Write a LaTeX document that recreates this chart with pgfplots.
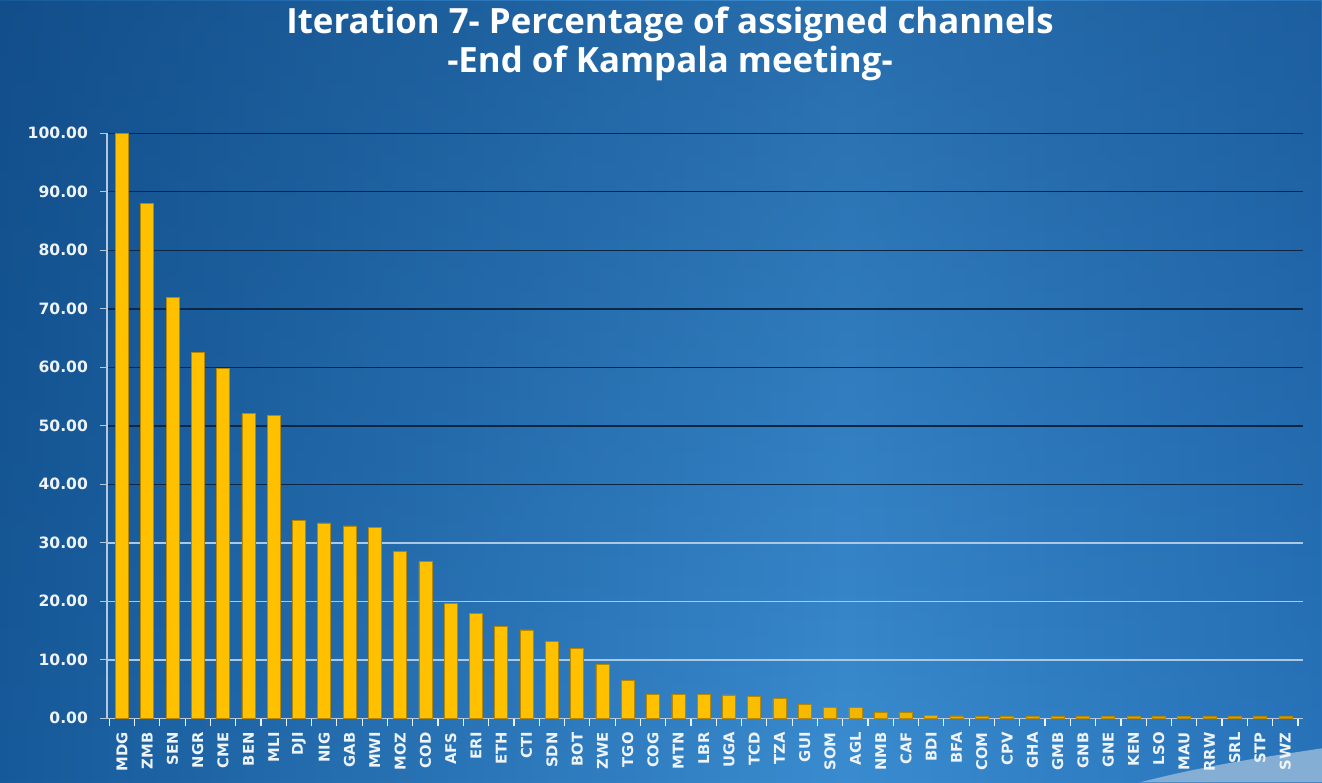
\documentclass[border=0pt]{standalone}
\usepackage{pgfplots}
\usepackage{pgfplotstable}
\pgfplotsset{compat=1.18}
\usetikzlibrary{fadings}
\usepackage{fontspec}
\setmainfont{DejaVu Sans}
\newfontfamily\titlefont{Open Sans}
\definecolor{bgA}{HTML}{0A4586}
\definecolor{bgB}{HTML}{175A9A}
\definecolor{bgC}{HTML}{3A8CD0}
\definecolor{bgD}{HTML}{236CB3}
\definecolor{bgE}{HTML}{0C4A8C}
\definecolor{bgTop}{HTML}{08386E}
\definecolor{barGold}{HTML}{FFC000}
\definecolor{barDark}{HTML}{B88700}
\definecolor{gridDark}{HTML}{0A2748}
\definecolor{gridLight}{HTML}{A9C9E6}
\definecolor{axisGray}{HTML}{B5C9DC}
\definecolor{labWhite}{HTML}{EEF3F8}
\definecolor{swoosh}{HTML}{84AED3}
\pgfdeclarehorizontalshading{bgshade}{100bp}{color(0bp)=(bgA); color(25bp)=(bgB); color(57bp)=(bgC); color(80bp)=(bgD); color(100bp)=(bgE)}

\pgfplotstableread{
x lab val
0 MDG 100
1 ZMB 88.0
2 SEN 71.9
3 NGR 62.5
4 CME 59.8
5 BEN 52.1
6 MLI 51.8
7 DJI 33.8
8 NIG 33.4
9 GAB 32.9
10 MWI 32.6
11 MOZ 28.5
12 COD 26.8
13 AFS 19.7
14 ERI 17.9
15 ETH 15.7
16 CTI 15.1
17 SDN 13.2
18 BOT 11.9
19 ZWE 9.2
20 TGO 6.5
21 COG 4.1
22 MTN 4.1
23 LBR 4.1
24 UGA 4.0
25 TCD 3.7
26 TZA 3.4
27 GUI 2.4
28 SOM 1.9
29 AGL 1.8
30 NMB 1.0
31 CAF 1.0
32 BDI 0.5
33 BFA 0.4
34 COM 0.3
35 CPV 0.3
36 GHA 0.3
37 GMB 0.3
38 GNB 0.3
39 GNE 0.3
40 KEN 0.3
41 LSO 0.3
42 MAU 0.3
43 RRW 0.3
44 SRL 0.3
45 STP 0.3
46 SWZ 0.3
}\data

\begin{document}
\begin{tikzpicture}
\shade[shading=bgshade] (0,0) rectangle (661pt,391pt);
\fill[bgTop, fill opacity=0.35, path fading=south] (0,0) rectangle (661pt,391pt);
\fill[swoosh] (570pt,0pt) .. controls (605pt,9pt) and (635pt,13pt) .. (661pt,17pt) -- (661pt,0pt) -- cycle;
\node[text=white, font=\titlefont\bfseries\fontsize{17.4}{17.4}\selectfont, anchor=base] at (335pt,374.5pt) {Iteration 7- Percentage of assigned channels};
\node[text=white, font=\titlefont\bfseries\fontsize{17.4}{17.4}\selectfont, anchor=base] at (335pt,355pt) {-End of Kampala meeting-};
\begin{axis}[
  at={(53.5pt,32pt)}, anchor=south west,
  scale only axis, width=598pt, height=292.5pt,
  xmin=-0.59, xmax=46.7, ymin=0, ymax=100,
  axis x line*=bottom, axis y line*=left,
  axis line style={draw=axisGray, line width=0.7pt},
  xtick=data,
  xticklabels from table={\data}{lab},
  minor xtick={-0.5,0.5,...,46.5},
  major x tick style={draw=none},
  minor x tick style={draw=labWhite, line width=0.6pt},
  minor tick length=4pt,
  x tick label style={rotate=90, anchor=east, text=labWhite, font=\bfseries\fontsize{7.4}{7.4}\selectfont, yshift=0pt},
  ytick={0,40,50,60,70,80,90,100},
  extra y ticks={10,20,30},
  extra y tick style={grid style={draw=gridLight, line width=0.7pt}},
  ymajorgrids,
  grid style={draw=gridDark, line width=0.7pt},
  y tick style={draw=axisGray, line width=0.6pt},
  major tick length=3.5pt,
  tick align=outside,
  y tick label style={text=labWhite, font=\bfseries\fontsize{7.8}{7.8}\selectfont, xshift=-2.5pt},
  yticklabel style={/pgf/number format/.cd, fixed, fixed zerofill, precision=2, assume math mode=true},
  /pgf/number format/.cd, fixed, fixed zerofill, precision=2, assume math mode=true,
]
\addplot[ybar, bar width=6.5pt, draw=barDark, line width=0.3pt, left color=barGold, right color=barGold!80!black, middle color=barGold] table[x=x, y=val] {\data};
\end{axis}
\end{tikzpicture}
\end{document}
